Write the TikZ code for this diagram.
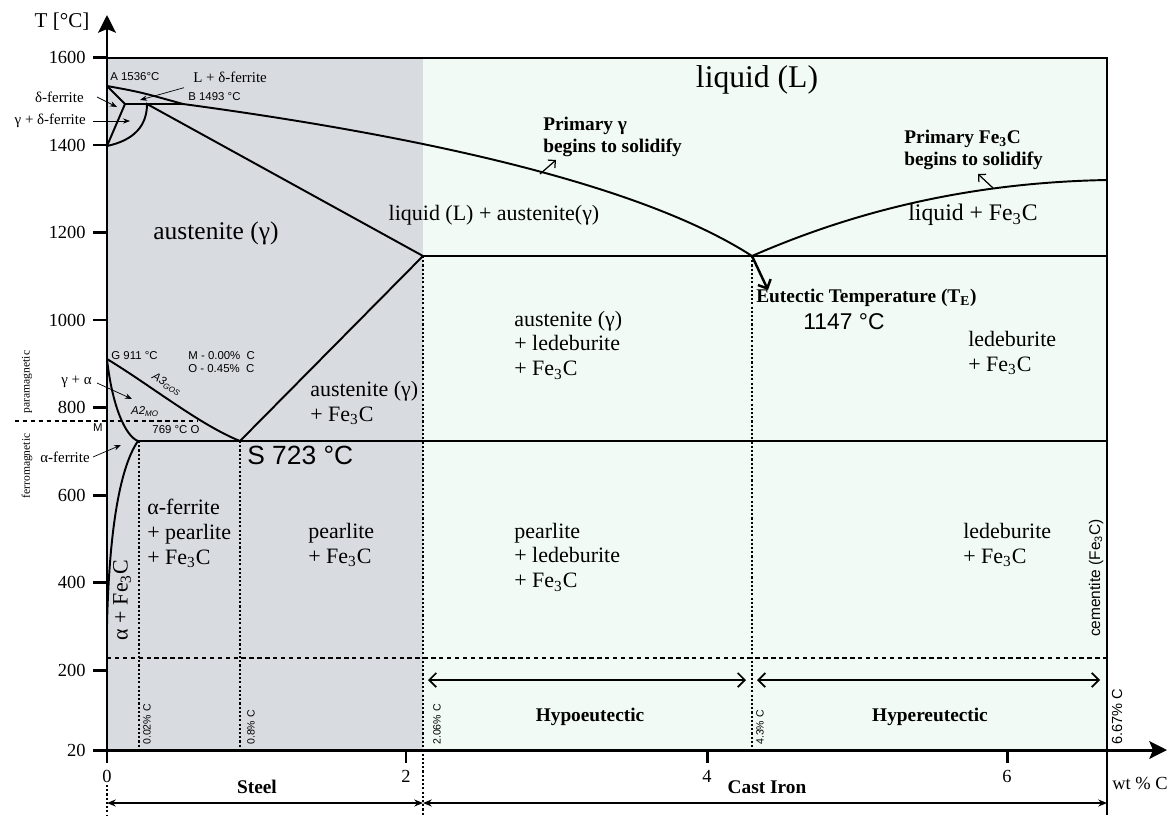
\documentclass[tikz,border=0pt]{standalone}
\usepackage{fontspec}
\setmainfont{Liberation Serif}
\setsansfont{Liberation Sans}
\usetikzlibrary{arrows.meta}

\definecolor{cinzaaco}{RGB}{216,220,225}
\definecolor{verdeferro}{RGB}{241,250,245}

\begin{document}
\begin{tikzpicture}[x=0.02cm, y=-0.02cm, >={Stealth[length=5pt,width=4pt]},
    fase/.style={line width=1.1pt},
    pontilhado/.style={line width=0.9pt, dash pattern=on 1.2pt off 1.2pt},
    tracejado/.style={line width=0.6pt, dash pattern=on 2.5pt off 2pt},
    regiao/.style={font=\fontsize{12.5}{14.2}\selectfont, align=left, anchor=west, inner sep=0pt},
    rotulo/.style={font=\fontsize{8.5}{10}\selectfont, inner sep=0pt},
    miudo/.style={font=\sffamily\fontsize{6.5}{8}\selectfont, inner sep=0pt},
    teor/.style={font=\sffamily\fontsize{6}{7}\selectfont, rotate=90, anchor=west, inner sep=0pt},
    negrito/.style={font=\bfseries\fontsize{11}{12.5}\selectfont, align=left, inner sep=0pt},
    seta/.style={-{Stealth[length=4pt,width=3pt]}, line width=0.4pt},
    aberta/.style={-{Straight Barb[length=3pt,width=6pt]}, line width=0.7pt},
    dupla/.style={{Straight Barb[length=4pt,width=8pt]}-{Straight Barb[length=4pt,width=8pt]}, line width=1pt},
    eixo/.style={line width=1.7pt},
  ]

  \useasboundingbox (0,0) rectangle (1170,815);

  % regioes: aco e ferro fundido
  \fill[cinzaaco] (107,58) rectangle (423,750);
  \fill[verdeferro] (423,58) rectangle (1107,750);

  % pontos do diagrama
  \coordinate (A) at (107,86);
  \coordinate (H) at (125,104);
  \coordinate (J) at (147,104);
  \coordinate (B) at (183,104);
  \coordinate (N) at (107,146);
  \coordinate (E) at (423,256);
  \coordinate (C) at (752,256);
  \coordinate (D) at (1107,180);
  \coordinate (F) at (1107,256);
  \coordinate (G) at (107,359);
  \coordinate (P) at (138,441);
  \coordinate (S) at (240,441);
  \coordinate (K) at (1107,441);
  \coordinate (Q) at (107,625);
  \coordinate (O) at (197,421);

  % linhas tracejadas e pontilhadas
  \draw[tracejado] (107,658) -- (1107,658);
  \draw[tracejado] (15,421) -- (O);
  \foreach \x in {139, 240}
    \draw[pontilhado] (\x,441) -- (\x,750);
  \draw[pontilhado] (E) -- (423,815);
  \draw[pontilhado] (C) -- (752,750);
  \draw[pontilhado] (107,785) -- (107,815);

  % moldura
  \draw[line width=0.8pt] (107,58) -- (1107,58) -- (1107,815);

  % linhas de fase
  \draw[fase] (A) .. controls (140,92) .. (B) .. controls (450,140) and (650,190) .. (C)
    .. controls (880,200) and (1000,182) .. (D);
  \draw[fase] (A) -- (H) -- (N);
  \draw[fase] (H) -- (B);
  \draw[fase] (N) .. controls (135,140) and (147,125) .. (J) -- (E) -- (S);
  \draw[line width=0.8pt] (E) -- (F);
  \draw[fase] (G) .. controls (150,385) and (200,425) .. (S);
  \draw[fase] (G) .. controls (112,405) and (125,436) .. (P) -- (K);
  \draw[fase] (P) .. controls (118,470) and (109,540) .. (Q);

  % eixos cartesianos
  \draw[eixo, -{Stealth[length=10pt,width=10pt,inset=2pt]}] (107,750) -- (107,15);
  \draw[eixo, -{Stealth[length=10pt,width=10pt,inset=2pt]}] (107,750) -- (1167,750);
  \node (eixoT) at (62,22) {\fontsize{12}{14}\selectfont T [°C]};
  \node (eixoC) at (1140,783) {\fontsize{10.5}{12}\selectfont wt \% C};

  \foreach \tc in {1600,1400,...,200}
    \draw[eixo] (107,{757.5-0.4375*\tc}) -- ++(-14,0) node[left, font=\fontsize{10.5}{12}\selectfont] {\tc};
  \draw[eixo] (107,750) -- ++(-14,0) node[left, font=\fontsize{10.5}{12}\selectfont] {20};
  \foreach \x/\w in {107/0, 406/2, 707/4, 1007/6}
    \draw[eixo] (\x,750) -- (\x,763) node[below, font=\fontsize{10.5}{12}\selectfont] {\w};

  % aco x ferro fundido
  \coordinate (s0) at (107,803);
  \coordinate (s1) at (423,803);
  \coordinate (s2) at (1107,803);
  \draw[<->, line width=0.7pt] (s0) -- (s1);
  \draw[<->, line width=0.7pt] (s1) -- (s2);
  \node[negrito] (aco) at (257,787) {Steel};
  \node[negrito] (ferro) at (767,787) {Cast Iron};

  % hipo e hipereutetico
  \coordinate (h0) at (428,680);
  \coordinate (h1) at (746,680);
  \coordinate (h2) at (757,680);
  \coordinate (h3) at (1100,680);
  \draw[dupla] (h0) -- (h1);
  \draw[dupla] (h2) -- (h3);
  \node[negrito] (hipo) at (590,717) {Hypoeutectic};
  \node[negrito] (hiper) at (930,717) {Hypereutectic};

  % teores de carbono
  \node[teor] (c002) at (147,745) {0.02\% C};
  \node[teor] (c08) at (251,745) {0.8\% C};
  \node[teor] (c206) at (437,745) {2.06\% C};
  \node[teor] (c43) at (760,745) {4.3\% C};
  \node[teor, font=\sffamily\fontsize{8.3}{10}\selectfont] (c667) at (1117,745) {6.67\% C};

  % regiao do delta
  \node[miudo, anchor=west] (tA) at (110,77) {A 1536°C};
  \node[miudo, anchor=west] (tB) at (188,97) {B 1493 °C};
  \node[rotulo, anchor=west] (Ld) at (193,77) {L + δ-ferrite};
  \node[rotulo, anchor=east] (dl) at (84,97) {δ-ferrite};
  \node[rotulo, anchor=east] (gd) at (86,121) {γ + δ-ferrite};
  \coordinate (pLd) at (140,100);
  \coordinate (pd) at (117,107);
  \coordinate (pgd) at (130,121);
  \draw[seta] ([shift={(-9,5)}]Ld.south west) -- (pLd);
  \draw[seta] ([shift={(13,0)}]dl.east) -- (pd);
  \draw[seta] ([shift={(7,0)}]gd.east) -- (pgd);

  % regiao do alfa e magnetismo
  \node[rotulo, anchor=east] (ga) at (92,382) {γ + α};
  \node[rotulo, anchor=east] (af) at (90,457) {α-ferrite};
  \coordinate (pga) at (132,399);
  \coordinate (paf) at (121,445);
  \draw[seta] ([shift={(5,1)}]ga.east) -- (pga);
  \draw[seta] ([shift={(3,0)}]af.east) -- (paf);
  \node[miudo] (tMm) at (98,428) {M};
  \node[font=\fontsize{6.6}{8}\selectfont, rotate=90] (para) at (27,382) {paramagnetic};
  \node[font=\fontsize{6.6}{8}\selectfont, rotate=90] (ferrom) at (27,466) {ferromagnetic};

  \node[miudo, anchor=west] (tG) at (111,356) {G 911 °C};
  \node[miudo, anchor=west] (tM) at (188,356) {M - 0.00\%\ \ C};
  \node[miudo, anchor=west] (tO) at (188,369) {O - 0.45\%\ \ C};
  \node[miudo, rotate=-31] (A3) at (167,384) {\textit{A3}\textsubscript{\textit{GOS}}};
  \node[miudo] (A2) at (145,412) {\textit{A2}\textsubscript{\textit{MO}}};
  \node[miudo] (t769) at (176,430) {769 °C O};
  \node[font=\sffamily\fontsize{15}{17}\selectfont, anchor=west, inner sep=0pt] (tS) at (247,455) {S 723 °C};

  % eutetico
  \coordinate (pE) at (768,290);
  \draw[line width=1.4pt, -{Straight Barb[length=4pt,width=8pt]}] (C) -- (pE);
  \node[negrito, anchor=west] (tTE) at (756,298) {Eutectic Temperature (T\textsubscript{E})};
  \node[font=\sffamily\fontsize{13}{15}\selectfont] (t1147) at (844,322) {1147 °C};

  % inicio da solidificacao
  \node[negrito, anchor=west] (pg) at (543,137) {Primary γ\\begins to solidify};
  \node[negrito, anchor=west] (pf) at (904,150) {Primary Fe\textsubscript{3}C\\begins to solidify};
  \coordinate (lg) at (540,174);
  \coordinate (ag) at (556,160);
  \coordinate (lf) at (993,188);
  \coordinate (agf) at (978,174);
  \draw[aberta] (lg) -- (ag);
  \draw[aberta] (lf) -- (agf);

  % rotulos das fases
  \node[font=\fontsize{18}{20}\selectfont] (liq) at (757,80) {liquid (L)};
  \node[regiao, anchor=center, font=\fontsize{14.5}{16}\selectfont] (aus) at (216,233) {austenite (γ)};
  \node[regiao, anchor=center] (liqaus) at (494,215) {liquid (L) + austenite(γ)};
  \node[regiao, anchor=center, font=\fontsize{13.5}{15}\selectfont] (liqfe) at (973,215) {liquid + Fe\textsubscript{3}C};
  \node[regiao] (ausled) at (514,345) {austenite (γ)\\+ ledeburite\\+ Fe\textsubscript{3}C};
  \node[regiao] (ledfe1) at (968,353) {ledeburite\\+ Fe\textsubscript{3}C};
  \node[regiao] (ausfe) at (310,403) {austenite (γ)\\+ Fe\textsubscript{3}C};
  \node[regiao] (afpe) at (147,533) {α-ferrite\\+ pearlite\\+ Fe\textsubscript{3}C};
  \node[regiao] (pefe) at (308,545) {pearlite\\+ Fe\textsubscript{3}C};
  \node[regiao] (peled) at (514,557) {pearlite\\+ ledeburite\\+ Fe\textsubscript{3}C};
  \node[regiao] (ledfe2) at (963,545) {ledeburite\\+ Fe\textsubscript{3}C};
  \node[regiao, anchor=center, rotate=90] (afe) at (122,600) {α + Fe\textsubscript{3}C};
  \node[font=\sffamily\fontsize{8.8}{10}\selectfont, rotate=90] (cem) at (1096,578) {cementite (Fe\textsubscript{3}C)};

\end{tikzpicture}
\end{document}
